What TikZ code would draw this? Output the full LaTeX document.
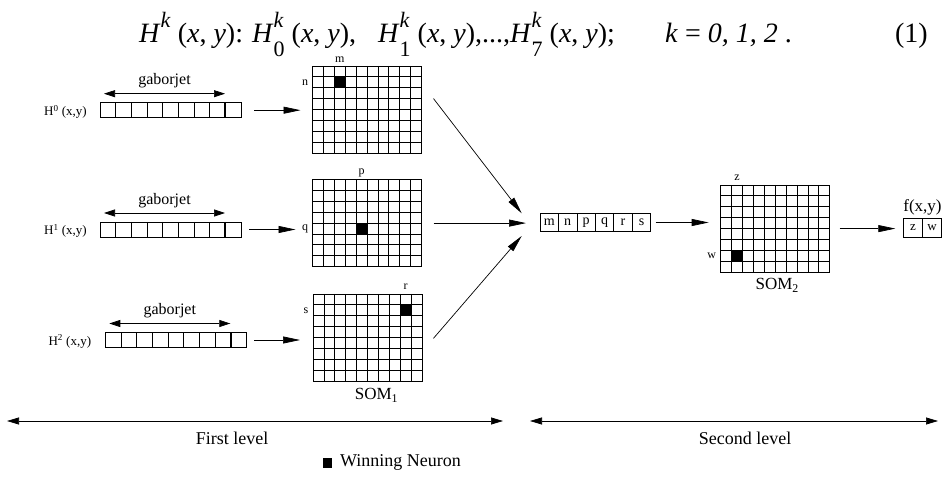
\documentclass[tikz,border=0pt]{standalone}
\usepackage{fontspec}
\setmainfont{Liberation Serif}
\usetikzlibrary{arrows.meta,calc}

\newcommand\fs[1]{\fontsize{#1}{#1}\selectfont}
% H with superscript k only, and H with subscript index and superscript k
\newcommand\Hsup{\textit{H}\raisebox{15pt}{\fs{22}\textit{k}}}
\newcommand\Hk[1]{\textit{H}\rlap{\raisebox{15pt}{\fs{22}\textit{k}}}\raisebox{-14pt}{\fs{22}#1}}

\tikzset{
  boxcell/.style={draw, line width=0.8pt, inner sep=0pt, outer sep=0pt},
  gridline/.style={line width=0.8pt},
  flowarrow/.style={line width=0.7pt, -{Triangle[length=17pt,width=7pt]}},
  spanarrow/.style={line width=0.7pt, {Triangle[length=11pt,width=7pt]}-{Triangle[length=11pt,width=7pt]}},
  levelarrow/.style={line width=0.7pt, {Triangle[length=12pt,width=7pt]}-{Triangle[length=12pt,width=7pt]}},
  eqtext/.style={font=\fs{28}, inner sep=0pt},
  jetlabel/.style={font=\fs{13}, inner sep=0pt},
  idx/.style={font=\fs{12}, inner sep=0pt},
  caption/.style={font=\fs{17}, inner sep=0pt},
  legend/.style={font=\fs{18}, inner sep=0pt},
}

% a self-organising map: name, top-left x, top-left y, winning column, winning row
\newcommand\somgrid[5]{%
  \node[boxcell, minimum width=109pt, minimum height=87.2pt, anchor=north west] (#1) at (#2,#3) {};
  \fill ($(#1.north west)+(#4*10.9,#5*10.9)$) rectangle ++(10.9,10.9);
  \foreach \i in {1,...,9}{\draw[gridline] ($(#1.north west)+(\i*10.9,0)$) -- ++(0,87.2);}
  \foreach \j in {1,...,7}{\draw[gridline] ($(#1.north west)+(0,\j*10.9)$) -- ++(109,0);}
}

% a gabor jet vector of nine cells: name, left x, middle y
\newcommand\gaborjet[3]{%
  \node[boxcell, minimum width=141pt, minimum height=15pt, anchor=west] (#1) at (#2,#3) {};
  \foreach \i in {1,...,7}{\draw[gridline] ($(#1.north west)+(\i*15.667,0)$) -- ++(0,15);}
  \draw[line width=2pt] ($(#1.north west)+(8*15.667,0)$) -- ++(0,15);
  \draw[spanarrow] ($(#1.north west)+(4,-9)$) -- ($(#1.north west)+(125,-9)$)
    node[midway, above=5pt, font=\fs{16}, inner sep=0pt] {gaborjet};
}

\begin{document}
\begin{tikzpicture}[x=1pt,y=-1pt]
\useasboundingbox (0,0) rectangle (945,478);

% equation
\node[eqtext, anchor=base west] (eq) at (139,43) {%
  \makebox[113pt][l]{\Hsup\ (\textit{x}, \textit{y}):}%
  \makebox[126pt][l]{\Hk{0} (\textit{x}, \textit{y}),}%
  \makebox[132pt][l]{\Hk{1} (\textit{x}, \textit{y}),...,}%
  \makebox[155pt][l]{\Hk{7} (\textit{x}, \textit{y});}%
  \textit{k} = \textit{0, 1, 2} .};
\node[eqtext, anchor=base east] (eqno) at (928,43) {(1)};

% first level: gabor jets
\gaborjet{J0}{100}{110.2}
\gaborjet{J1}{100}{229.5}
\gaborjet{J2}{105.3}{340}
\node[jetlabel, anchor=east] (L0) at ($(J0.west)+(-13,1.5)$) {H\textsuperscript{0} (x,y)};
\node[jetlabel, anchor=east] (L1) at ($(J1.west)+(-13,1.5)$) {H\textsuperscript{1} (x,y)};
\node[jetlabel, anchor=east] (L2) at ($(J2.west)+(-14,1.5)$) {H\textsuperscript{2} (x,y)};

% first level maps
\somgrid{G1}{312.5}{66}{2}{1}
\somgrid{G2}{312.5}{179.5}{4}{4}
\somgrid{G3}{313}{294}{8}{1}
\node[idx] (m) at ($(G1.north west)+(2.5*10.9,-6)$) {m};
\node[idx] (n) at ($(G1.north west)+(-7.5,1.5*10.9)$) {n};
\node[idx] (p) at ($(G2.north west)+(4.5*10.9,-7)$) {p};
\node[idx] (q) at ($(G2.north west)+(-7.5,4.5*10.9)$) {q};
\node[idx] (r) at ($(G3.north west)+(8.5*10.9,-7)$) {r};
\node[idx] (s) at ($(G3.north west)+(-7,1.5*10.9)$) {s};
\node[caption] (som1) at ($(G3.south)+(9,14)$) {SOM\textsubscript{1}};

\draw[flowarrow] ([xshift=13pt]J0.east) -- ([xshift=-12pt]J0.east -| G1.west);
\draw[flowarrow] ([xshift=8pt]J1.east) -- ([xshift=-17pt]J1.east -| G2.west);
\draw[flowarrow] ([xshift=8pt]J2.east) -- ([xshift=-13pt]J2.east -| G3.west);

% second level input vector
\node[boxcell, font=\fs{14}, minimum width=18.45pt, minimum height=18.4pt, anchor=north west] (v1) at (540,213.3) {m};
\foreach \k/\t [remember=\k as \prev (initially 1)] in {2/n,3/p,4/q,5/r,6/s}
  \node[boxcell, font=\fs{14}, minimum width=18.45pt, minimum height=18.4pt, anchor=north west] (v\k) at (v\prev.north east) {\t};

\draw[flowarrow] ([shift={(12,-11)}]G1.east) -- ([shift={(-18.3,-9.2)}]v1.west);
\draw[flowarrow] ([xshift=12pt]G2.east) -- ([xshift=-14pt]G2.east -| v1.west);
\draw[flowarrow] ([shift={(11.5,0.7)}]G3.east) -- ([shift={(-18.3,13.5)}]v1.west);

% second level map
\somgrid{G4}{720.7}{185}{1}{6}
\node[idx] (z) at ($(G4.north west)+(1.5*10.9,-7)$) {z};
\node[idx] (w) at ($(G4.north west)+(-9,6.5*10.9)$) {w};
\node[caption] (som2) at ($(G4.south)+(2,13)$) {SOM\textsubscript{2}};
\draw[flowarrow] ([xshift=5pt]v6.east) -- ([xshift=-12pt]v6.east -| G4.west);

% output
\node[boxcell, font=\fs{13}, minimum width=19.2pt, minimum height=19pt, anchor=north west] (o1) at (903.3,218.5) {z};
\node[boxcell, font=\fs{13}, minimum width=19.2pt, minimum height=19pt, anchor=north west] (o2) at (o1.north east) {w};
\node[caption, anchor=south] (fxy) at ($(o1.north east)+(0,-3)$) {f(x,y)};
\draw[flowarrow] ([xshift=10pt]G4.east) -- ([xshift=-8pt]G4.east -| o1.west);

% levels
\coordinate (a1) at (7,421);
\coordinate (a2) at (503,421);
\coordinate (b1) at (530,421);
\coordinate (b2) at (938,421);
\draw[levelarrow] (a1) -- (a2);
\draw[levelarrow] (b1) -- (b2);
\node[legend] (lev1) at (232,438) {First level};
\node[legend] (lev2) at (745,438) {Second level};

% legend
\node[fill, minimum width=9pt, minimum height=10pt, inner sep=0pt] (winsq) at (327.5,463) {};
\node[legend, anchor=west] (wintxt) at (340,462) {Winning Neuron};
\end{tikzpicture}
\end{document}
